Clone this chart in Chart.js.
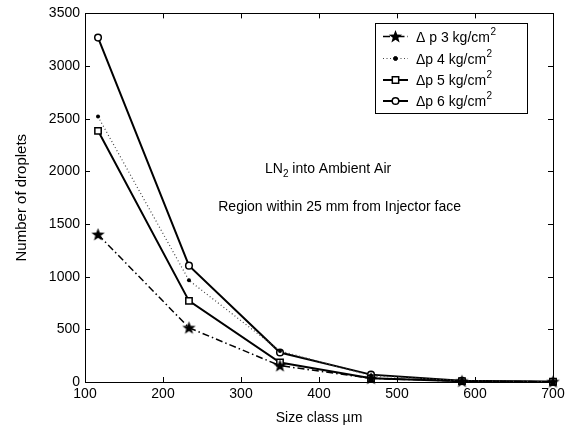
<!DOCTYPE html>
<html><head><meta charset="utf-8">
<script src="https://cdn.jsdelivr.net/npm/chart.js@4/dist/chart.umd.min.js"></script>
<style>html,body{margin:0;padding:0;background:#fff}#wrap{width:574px;height:432px}</style>
</head><body><div id="wrap"><canvas id="c" width="574" height="432"></canvas></div>
<script>
const sizeClass = [116.7, 233.3, 350, 466.7, 583.3, 700];
const dp3 = [1400, 515, 155, 35, 8, 2];
const dp4 = [2520, 965, 295, 60, 12, 3];
const dp5 = [2385, 770, 185, 35, 8, 2];
const dp6 = [3270, 1105, 280, 70, 12, 3];
const seriesLabels = ['\u0394 p 3 kg/cm', '\u0394p 4 kg/cm', '\u0394p 5 kg/cm', '\u0394p 6 kg/cm'];
const xTicks = [100, 200, 300, 400, 500, 600, 700];
const yTicks = [0, 500, 1000, 1500, 2000, 2500, 3000, 3500];
const FONT = 'Arial, "Liberation Sans", sans-serif';

function starImg() {
  const c = document.createElement('canvas');
  c.width = 15; c.height = 15;
  const g = c.getContext('2d');
  g.fillStyle = '#000';
  g.beginPath();
  for (let i = 0; i < 10; i++) {
    const r = i % 2 === 0 ? 7 : 2.9;
    const a = -Math.PI / 2 + i * Math.PI / 5;
    const px = 7.5 + r * Math.cos(a), py = 7.9 + r * Math.sin(a);
    if (i === 0) g.moveTo(px, py); else g.lineTo(px, py);
  }
  g.closePath(); g.fill();
  return c;
}
const STAR = starImg();

function pts(vals) { return vals.map((v, i) => ({x: sizeClass[i], y: v})); }

const datasets = [
  {label: seriesLabels[0], data: pts(dp3), borderColor: '#000', borderWidth: 1.5, borderDash: [7, 3, 1.5, 3],
   pointStyle: STAR, pointRadius: 7, pointBackgroundColor: '#000', pointBorderColor: '#000'},
  {label: seriesLabels[1], data: pts(dp4), borderColor: '#444', borderWidth: 1.2, borderDash: [1, 2.5],
   pointStyle: 'circle', pointRadius: 2, pointBackgroundColor: '#000', pointBorderColor: '#000', pointBorderWidth: 0},
  {label: seriesLabels[2], data: pts(dp5), borderColor: '#000', borderWidth: 2,
   pointStyle: 'rect', pointRadius: 4.5, pointBackgroundColor: '#fff', pointBorderColor: '#000', pointBorderWidth: 1.5},
  {label: seriesLabels[3], data: pts(dp6), borderColor: '#000', borderWidth: 2,
   pointStyle: 'circle', pointRadius: 3.3, pointBackgroundColor: '#fff', pointBorderColor: '#000', pointBorderWidth: 1.5}
];
datasets.forEach(d => { d.tension = 0; d.fill = false; d.clip = false; });

const decor = {
  id: 'decor',
  beforeDatasetsDraw(chart) {
    const {ctx, chartArea: a} = chart;
    ctx.save();
    ctx.fillStyle = '#fff';
    ctx.fillRect(a.left, a.top, a.right - a.left, a.bottom - a.top);
    ctx.restore();
  },
  afterDatasetsDraw(chart) {
    const {ctx, chartArea: a, scales: {x, y}} = chart;
    ctx.save();
    ctx.strokeStyle = '#000';
    ctx.lineWidth = 1;
    ctx.strokeRect(Math.round(a.left) + 0.5, Math.round(a.top) + 0.5, Math.round(a.right - a.left), Math.round(a.bottom - a.top));
    ctx.beginPath();
    xTicks.forEach(v => {
      const px = Math.round(x.getPixelForValue(v)) + 0.5;
      ctx.moveTo(px, a.bottom); ctx.lineTo(px, a.bottom - 5);
      ctx.moveTo(px, a.top); ctx.lineTo(px, a.top + 5);
    });
    yTicks.forEach(v => {
      const py = Math.round(y.getPixelForValue(v)) + 0.5;
      ctx.moveTo(a.left, py); ctx.lineTo(a.left + 5, py);
      ctx.moveTo(a.right, py); ctx.lineTo(a.right - 5, py);
    });
    ctx.stroke();

    // annotations
    ctx.fillStyle = '#000';
    ctx.textBaseline = 'alphabetic';
    const t1a = 'LN', t1b = ' into Ambient Air';
    ctx.font = '14px ' + FONT;
    const wA = ctx.measureText(t1a).width;
    ctx.font = '10px ' + FONT;
    const wS = ctx.measureText('2').width;
    let sx = 265;
    ctx.textAlign = 'left';
    ctx.font = '14px ' + FONT;
    ctx.fillText(t1a, sx, 173);
    ctx.font = '10px ' + FONT;
    ctx.fillText('2', sx + wA, 177);
    ctx.font = '14px ' + FONT;
    ctx.fillText(t1b, sx + wA + wS, 173);
    ctx.textAlign = 'right';
    ctx.font = '14px ' + FONT;
    ctx.fillText('Region within 25 mm from Injector face', 461, 211);

    // legend
    const lx = 375, ly = 23, lw = 152, lh = 90;
    ctx.fillStyle = '#fff';
    ctx.fillRect(lx, ly, lw, lh);
    ctx.strokeStyle = '#000';
    ctx.lineWidth = 1;
    ctx.strokeRect(lx + 0.5, ly + 0.5, lw, lh);
    const rows = [36.5, 58.5, 80, 101];
    chart.data.datasets.forEach((ds, i) => {
      const cy = rows[i];
      ctx.save();
      ctx.strokeStyle = ds.borderColor;
      ctx.lineWidth = ds.borderWidth;
      ctx.setLineDash(ds.borderDash || []);
      ctx.beginPath(); ctx.moveTo(383, cy); ctx.lineTo(408, cy); ctx.stroke();
      ctx.restore();
      ctx.save();
      ctx.fillStyle = ds.pointBackgroundColor; ctx.strokeStyle = ds.pointBorderColor;
      ctx.lineWidth = ds.pointBorderWidth === undefined ? 1 : ds.pointBorderWidth;
      if (ds.pointStyle === STAR) {
        ctx.drawImage(STAR, 395.5 - 7.5, cy - 7.5);
      } else {
        ctx.beginPath();
        if (ds.pointStyle === 'rect') { const s = ds.pointRadius * Math.SQRT1_2; ctx.rect(395.5 - s, cy - s, 2 * s, 2 * s); }
        else ctx.arc(395.5, cy, ds.pointRadius, 0, Math.PI * 2);
        ctx.fill(); if (ctx.lineWidth > 0) ctx.stroke();
      }
      ctx.restore();
      ctx.fillStyle = '#000';
      ctx.textAlign = 'left';
      ctx.font = '14px ' + FONT;
      ctx.fillText(ds.label, 416, cy + 5);
      const w = ctx.measureText(ds.label).width;
      ctx.font = '10px ' + FONT;
      ctx.fillText('2', 416 + w + 0.5, cy - 2);
    });
    ctx.restore();
  }
};

new Chart(document.getElementById('c'), {
  type: 'line',
  data: {datasets},
  options: {
    responsive: false,
    animation: false,
    devicePixelRatio: 1,
    layout: {padding: {left: 0, right: 21, top: 13, bottom: 0}},
    plugins: {legend: {display: false}, tooltip: {enabled: false}},
    scales: {
      x: {
        type: 'linear', min: 100, max: 700,
        afterFit(s) { s.height = 50; },
        afterBuildTicks(s) { s.ticks = xTicks.map(v => ({value: v})); },
        grid: {display: false, drawTicks: false},
        border: {display: false},
        ticks: {color: '#000', font: {family: FONT, size: 14}, padding: 4, maxRotation: 0, autoSkip: false},
        title: {display: true, text: 'Size class \u00b5m', color: '#000', font: {family: FONT, size: 14}, padding: {top: 0, bottom: 5}}
      },
      y: {
        min: 0, max: 3500,
        afterFit(s) { s.width = 85; },
        afterBuildTicks(s) { s.ticks = yTicks.map(v => ({value: v})); },
        grid: {display: false, drawTicks: false},
        border: {display: false},
        ticks: {color: '#000', font: {family: FONT, size: 14}, padding: 5, autoSkip: false, callback: v => String(v)},
        title: {display: true, text: 'Number of droplets', color: '#000', font: {family: FONT, size: 15}, padding: {top: 13, bottom: 0}}
      }
    }
  },
  plugins: [decor]
});
</script></body></html>
